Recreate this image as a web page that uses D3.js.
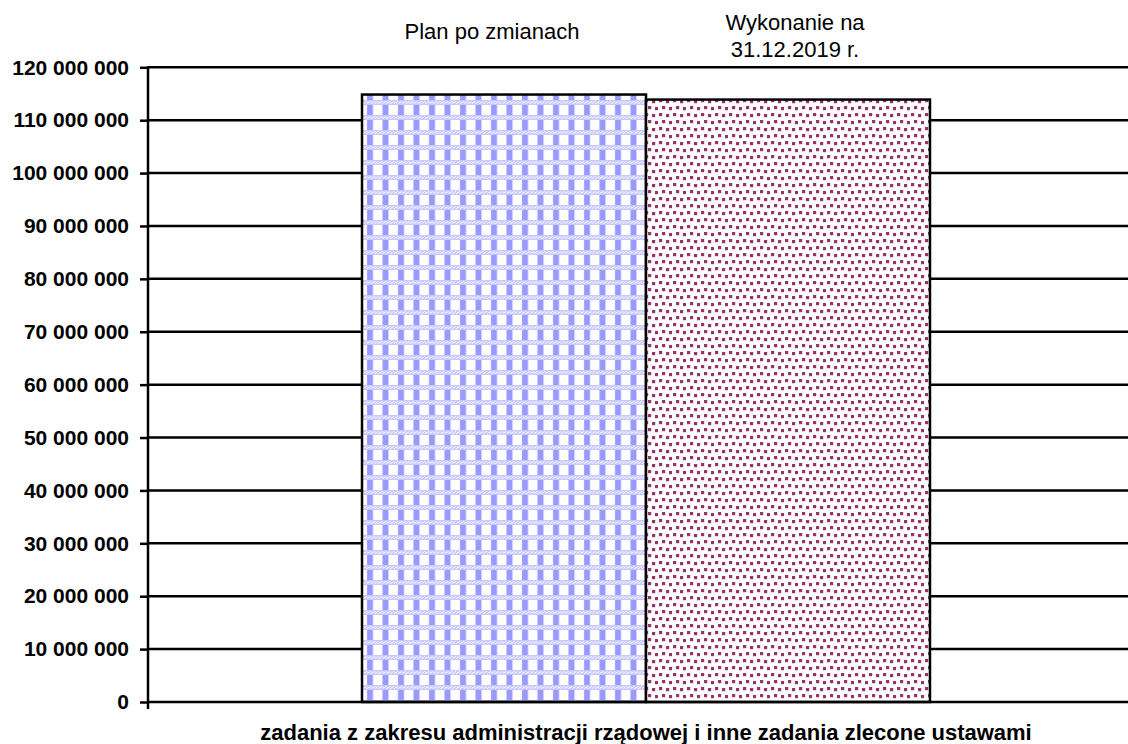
<!DOCTYPE html>
<html><head><meta charset="utf-8">
<script src="https://cdn.jsdelivr.net/npm/d3@7"></script>
<style>body{margin:0;background:#fff}svg{display:block}</style>
</head><body>
<svg id="c" width="1128" height="744"></svg>
<script>
const categories = ["zadania z zakresu administracji rządowej i inne zadania zlecone ustawami"];
const seriesNames = [["Plan po zmianach"], ["Wykonanie na", "31.12.2019 r."]];
const planValues = [114850000];
const wykonanieValues = [113900000];
const tickValues = [0,10000000,20000000,30000000,40000000,50000000,60000000,70000000,80000000,90000000,100000000,110000000,120000000];

(function(){
const svg = d3.select("#c");
const W = 1128, H = 744;
const mLeft = 148, mRight = 1144, mTop = 67.3, mBottom = 702;
const font = "'Liberation Sans', Arial, sans-serif";

const defs = svg.append("defs");
// blue checkered pattern
const p1 = defs.append("pattern").attr("id","pBlue").attr("patternUnits","userSpaceOnUse")
  .attr("width",15.5).attr("height",15).attr("x",362).attr("y",0);
p1.append("rect").attr("width",15.5).attr("height",15).attr("fill","#fff");
p1.append("rect").attr("x",5).attr("y",0).attr("width",6).attr("height",10).attr("fill","#9999ff");
p1.append("rect").attr("x",0).attr("y",10).attr("width",15.5).attr("height",5).attr("fill","#c8c8ff");
for (let i=0;i<8;i++){ p1.append("rect").attr("x",i*2).attr("y",11+(i%2)).attr("width",1).attr("height",1).attr("fill","#fff");
  p1.append("rect").attr("x",i*2+1).attr("y",13-(i%2)).attr("width",1).attr("height",1).attr("fill","#fff"); }
// magenta dotted pattern
const p2 = defs.append("pattern").attr("id","pMag").attr("patternUnits","userSpaceOnUse")
  .attr("width",14).attr("height",14);
p2.append("rect").attr("width",14).attr("height",14).attr("fill","#fff");
[[1,1],[8,2],[4,8],[11,9]].forEach(([x,y])=>{
  p2.append("rect").attr("x",x).attr("y",y).attr("width",3.2).attr("height",3.2).attr("fill","#993366");
});

const y = d3.scaleLinear().domain([0,120000000]).range([mBottom, mTop]);
const x0 = d3.scaleBand().domain(categories).range([mLeft, mRight]).paddingInner(0).paddingOuter(0.3768);
const x1 = d3.scaleBand().domain(["plan","wyk"]).range([0, x0.bandwidth()]);

const fmt = v => d3.format(",")(v).replace(/,/g, " ");

// gridlines
svg.append("g").selectAll("line").data(tickValues.filter(v=>v>0)).join("line")
  .attr("x1",mLeft).attr("x2",W).attr("y1",d=>y(d)).attr("y2",d=>y(d))
  .attr("stroke","#000").attr("stroke-width",2.5);

// bars
const data = [
  {key:"plan", value: planValues[0], fill:"url(#pBlue)"},
  {key:"wyk", value: wykonanieValues[0], fill:"url(#pMag)"}
];
svg.append("g").selectAll("rect").data(data).join("rect")
  .attr("x", d=>x0(categories[0]) + x1(d.key))
  .attr("width", x1.bandwidth())
  .attr("y", d=>y(d.value))
  .attr("height", d=>mBottom - y(d.value))
  .attr("fill", d=>d.fill)
  .attr("stroke","#000").attr("stroke-width",2.5);

// y axis
const yAxis = d3.axisLeft(y).tickValues(tickValues).tickFormat(fmt).tickSize(8).tickPadding(11);
const ga = svg.append("g").attr("transform",`translate(${mLeft},0)`).call(yAxis);
ga.select(".domain").remove();
ga.selectAll(".tick line").attr("stroke","#000").attr("stroke-width",2.5);
ga.selectAll(".tick text").attr("font-family",font).attr("font-size",21).attr("font-weight","bold").attr("fill","#000");
svg.append("line").attr("x1",mLeft).attr("x2",mLeft).attr("y1",mTop-1).attr("y2",mBottom+7)
  .attr("stroke","#000").attr("stroke-width",2.5);
// baseline
svg.append("line").attr("x1",mLeft).attr("x2",W).attr("y1",mBottom).attr("y2",mBottom)
  .attr("stroke","#000").attr("stroke-width",2.5);

// series labels
const legendX = [492, 795];
svg.append("text").attr("x",legendX[0]).attr("y",39).attr("text-anchor","middle")
  .attr("font-family",font).attr("font-size",22).text(seriesNames[0][0]);
const t2 = svg.append("text").attr("text-anchor","middle").attr("font-family",font).attr("font-size",22);
t2.append("tspan").attr("x",legendX[1]).attr("y",30).text(seriesNames[1][0]);
t2.append("tspan").attr("x",legendX[1]).attr("y",57).text(seriesNames[1][1]);

// category label
svg.append("text").attr("x", x0(categories[0]) + x0.bandwidth()/2).attr("y",740)
  .attr("text-anchor","middle").attr("font-family",font).attr("font-size",22).attr("font-weight","bold")
  .text(categories[0]);
})();
</script>
</body></html>
